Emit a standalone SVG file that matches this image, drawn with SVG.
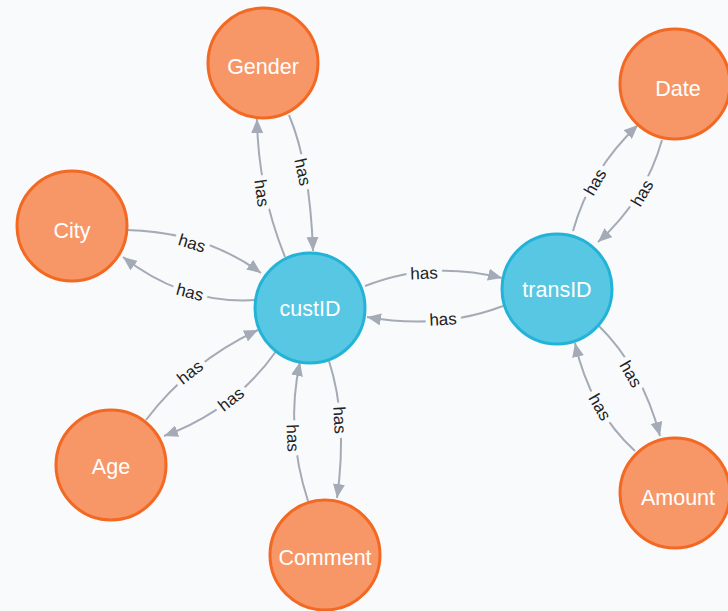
<svg xmlns="http://www.w3.org/2000/svg" width="728" height="611" viewBox="0 0 728 611">
<defs>
<style>
.bg{fill:#f9fafc}
.o{fill:#F79767;stroke:#F36924;stroke-width:3}
.b{fill:#57C7E3;stroke:#23B3D7;stroke-width:3}
.nt{font-family:"Liberation Sans",Arial,sans-serif;font-size:21.5px;fill:#ffffff;text-anchor:middle}
.e{fill:none;stroke:#A5ABB6;stroke-width:2;marker-end:url(#arr)}
.l{font-family:"Liberation Sans",Arial,sans-serif;font-size:17px;fill:#222;text-anchor:middle;stroke:#f9fafc;stroke-width:10;paint-order:stroke;stroke-linejoin:round}
</style>
<marker id="arr" markerUnits="userSpaceOnUse" markerWidth="14" markerHeight="12" refX="14" refY="6" orient="auto" viewBox="0 0 14 12">
<path d="M0,0 L14,6 L0,12 z" fill="#A5ABB6"/>
</marker>
</defs>
<rect class="bg" x="0" y="0" width="728" height="611"/>
<g id="connectors">
<path class="e" d="M289,115 Q310,165 313,251"/>
<path class="e" d="M285,257 Q258,190 257,119"/>
<path class="e" d="M127,230 Q205,232 261,273"/>
<path class="e" d="M256,300 Q185,305 123,257"/>
<path class="e" d="M146,420 Q190,362 258,330"/>
<path class="e" d="M277,350 Q235,410 164,436"/>
<path class="e" d="M308,501 Q285,430 300,362"/>
<path class="e" d="M329,361 Q348,420 337,498"/>
<path class="e" d="M365,286 Q430,260 502,278"/>
<path class="e" d="M503,306 Q440,330 367,317"/>
<path class="e" d="M573,231 Q590,170 638,125"/>
<path class="e" d="M662,140 Q645,200 598,242"/>
<path class="e" d="M598,325 Q642,368 660,436"/>
<path class="e" d="M635,451 Q590,410 575,343"/>
<text class="l" transform="translate(303,172) rotate(78)" dy="0.35em">has</text>
<text class="l" transform="translate(262,193) rotate(82)" dy="0.35em">has</text>
<text class="l" transform="translate(192,243) rotate(17)" dy="0.35em">has</text>
<text class="l" transform="translate(190,292) rotate(15)" dy="0.35em">has</text>
<text class="l" transform="translate(190,372) rotate(-38)" dy="0.35em">has</text>
<text class="l" transform="translate(231,399) rotate(-38)" dy="0.35em">has</text>
<text class="l" transform="translate(293,438) rotate(88)" dy="0.35em">has</text>
<text class="l" transform="translate(340,420) rotate(87)" dy="0.35em">has</text>
<text class="l" transform="translate(424,273) rotate(-2)" dy="0.35em">has</text>
<text class="l" transform="translate(443,319) rotate(-3)" dy="0.35em">has</text>
<text class="l" transform="translate(595,182) rotate(-60)" dy="0.35em">has</text>
<text class="l" transform="translate(642,193) rotate(-60)" dy="0.35em">has</text>
<text class="l" transform="translate(631,374) rotate(60)" dy="0.35em">has</text>
<text class="l" transform="translate(600,407) rotate(60)" dy="0.35em">has</text>
</g>
<g id="custID"><circle class="b" cx="310" cy="308" r="55"/><text class="nt" x="310" y="308" dy="0.35em">custID</text></g>
<g id="transID"><circle class="b" cx="557" cy="289" r="55"/><text class="nt" x="557" y="289" dy="0.35em">transID</text></g>
<g id="Gender"><circle class="o" cx="263" cy="63" r="55"/><text class="nt" x="263" y="66" dy="0.35em">Gender</text></g>
<g id="City"><circle class="o" cx="72" cy="226" r="55"/><text class="nt" x="72" y="230" dy="0.35em">City</text></g>
<g id="Age"><circle class="o" cx="111" cy="465" r="55"/><text class="nt" x="111" y="466" dy="0.35em">Age</text></g>
<g id="Comment"><circle class="o" cx="325" cy="555" r="55"/><text class="nt" x="325" y="557" dy="0.35em">Comment</text></g>
<g id="Date"><circle class="o" cx="675" cy="84" r="55"/><text class="nt" x="678" y="88" dy="0.35em">Date</text></g>
<g id="Amount"><circle class="o" cx="675" cy="493" r="55"/><text class="nt" x="678" y="497" dy="0.35em">Amount</text></g>
</svg>
